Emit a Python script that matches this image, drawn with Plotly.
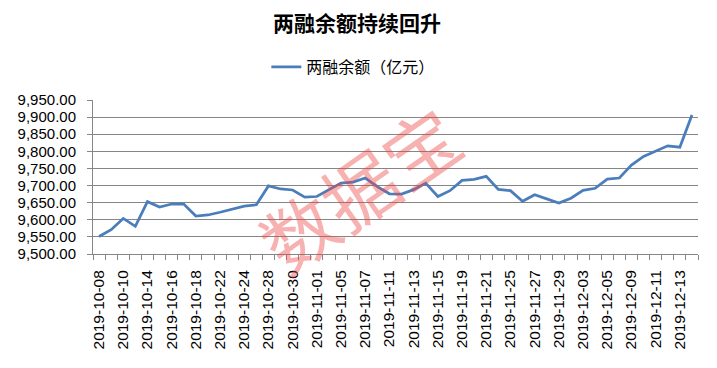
import plotly.graph_objects as go

dates = [
    "2019-10-08", "2019-10-09", "2019-10-10", "2019-10-11", "2019-10-14", "2019-10-15",
    "2019-10-16", "2019-10-17", "2019-10-18", "2019-10-21", "2019-10-22", "2019-10-23",
    "2019-10-24", "2019-10-25", "2019-10-28", "2019-10-29", "2019-10-30", "2019-10-31",
    "2019-11-01", "2019-11-04", "2019-11-05", "2019-11-06", "2019-11-07", "2019-11-08",
    "2019-11-11", "2019-11-12", "2019-11-13", "2019-11-14", "2019-11-15", "2019-11-18",
    "2019-11-19", "2019-11-20", "2019-11-21", "2019-11-22", "2019-11-25", "2019-11-26",
    "2019-11-27", "2019-11-28", "2019-11-29", "2019-12-02", "2019-12-03", "2019-12-04",
    "2019-12-05", "2019-12-06", "2019-12-09", "2019-12-10", "2019-12-11", "2019-12-12",
    "2019-12-13", "2019-12-16",
]

balance = [
    9551, 9571, 9604, 9581, 9653, 9637, 9646, 9646, 9611, 9614,
    9622, 9631, 9640, 9644, 9699, 9690, 9687, 9666, 9668, 9688,
    9707, 9710, 9722, 9697, 9676, 9675, 9688, 9707, 9668, 9685,
    9715, 9718, 9727, 9689, 9685, 9654, 9673, 9661, 9649, 9663,
    9686, 9692, 9719, 9722, 9760, 9785, 9800, 9816, 9812, 9906,
]

tick_text = [d if i % 2 == 0 else "" for i, d in enumerate(dates)]

title_text = "两融余额持续回升"
series_name = "两融余额（亿元）"
watermark = "数据宝"

FONT = "Liberation Sans, Arial, Noto Sans CJK SC, sans-serif"
CJK = "Noto Sans CJK SC, sans-serif"
GRAY = "#868686"

# page body has an 8px default margin: figure is drawn at (8, 8) in the window
W, H = 709, 360

fig = go.Figure()
fig.add_trace(go.Scatter(
    x=dates, y=balance, mode="lines", name=series_name,
    line=dict(color="#4A7EBB", width=2.75),
))

fig.update_layout(
    width=W, height=H,
    margin=dict(l=85, r=19, t=92, b=114, autoexpand=False),
    paper_bgcolor="white", plot_bgcolor="white",
    font=dict(family=FONT, size=15, color="black"),
    title=dict(text="<b>" + title_text + "</b>", x=(357 - 8) / W, xref="container", xanchor="center",
               y=1 - 16 / H, yref="container", yanchor="middle",
               font=dict(family=CJK, size=21, color="black")),
    showlegend=True,
    legend=dict(orientation="h", x=0.2865, xanchor="left", y=1.214, yanchor="middle",
                font=dict(family=CJK, size=16, color="black"), bgcolor="rgba(0,0,0,0)"),
    xaxis=dict(
        type="category", tickmode="array", tickvals=dates, ticktext=tick_text,
        range=[-0.5, len(dates) - 0.5],
        tickangle=-90, tickson="boundaries", ticks="outside", ticklen=5,
        tickcolor=GRAY, showline=True, linecolor=GRAY, linewidth=1,
        showgrid=False, ticklabelstandoff=9,
        tickfont=dict(family=FONT, size=15.5, color="black"),
    ),
    yaxis=dict(
        range=[9500, 9950], dtick=50, tick0=9500, tickformat=",.2f",
        ticks="outside", ticklen=5, tickcolor=GRAY,
        showline=True, linecolor=GRAY, linewidth=1,
        showgrid=True, gridcolor=GRAY, gridwidth=1, zeroline=False,
        ticklabelstandoff=8,
        tickfont=dict(family=FONT, size=15, color="black"),
    ),
)

fig.add_annotation(
    text=watermark, xref="paper", yref="paper",
    x=(358 - 93) / 605, y=(254 - 187) / 154,
    showarrow=False, textangle=-35,
    font=dict(family=CJK, size=74, color="rgba(238,70,70,0.42)"),
)

fig.write_html("out.html")
